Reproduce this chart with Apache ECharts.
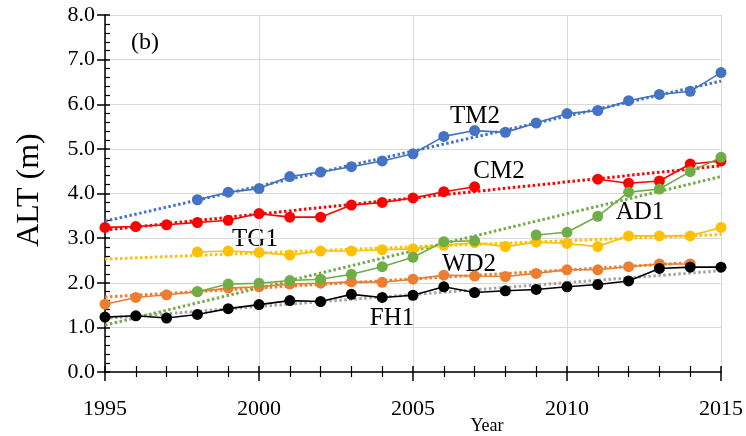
<!DOCTYPE html>
<html>
<head>
<meta charset="utf-8">
<script src="https://cdn.jsdelivr.net/npm/echarts@6/dist/echarts.min.js"></script>
<style>
  html, body { margin: 0; padding: 0; background: #fff; }
  #chart { width: 746px; height: 436px; }
</style>
</head>
<body>
<div id="chart"></div>
<script>
// Active layer thickness (ALT) per site, 1995–2015
const years = [1995, 1996, 1997, 1998, 1999, 2000, 2001, 2002, 2003, 2004, 2005,
               2006, 2007, 2008, 2009, 2010, 2011, 2012, 2013, 2014, 2015];

const TM2 = [null, null, null, 3.86, 4.03, 4.11, 4.38, 4.48, 4.60, 4.73, 4.89,
             5.28, 5.41, 5.37, 5.58, 5.79, 5.86, 6.08, 6.22, 6.29, 6.71];
const CM2 = [3.24, 3.26, 3.30, 3.35, 3.40, 3.55, 3.47, 3.47, 3.74, 3.80, 3.90,
             4.04, 4.15, null, null, null, 4.32, 4.23, 4.28, 4.66, 4.73];
const TG1 = [null, null, null, 2.69, 2.71, 2.68, 2.62, 2.71, 2.71, 2.74, 2.76,
             2.84, 2.90, 2.81, 2.91, 2.88, 2.81, 3.05, 3.05, 3.05, 3.24];
const WD2 = [1.52, 1.67, 1.73, 1.80, 1.88, 1.91, 1.97, 1.99, 2.02, 2.01, 2.08,
             2.17, 2.15, 2.14, 2.21, 2.29, 2.29, 2.36, 2.42, 2.42, null];
const FH1 = [1.23, 1.26, 1.21, 1.29, 1.42, 1.51, 1.60, 1.58, 1.74, 1.67, 1.72,
             1.91, 1.78, 1.82, 1.85, 1.91, 1.96, 2.04, 2.32, 2.35, 2.35];
const AD1 = [null, null, null, 1.80, 1.97, 1.99, 2.05, 2.08, 2.19, 2.36, 2.57,
             2.92, 2.94, null, 3.07, 3.13, 3.49, 4.03, 4.10, 4.49, 4.81];

// Linear trend lines: [start year, start value, end year, end value]
const trendTM2 = [1995, 3.38, 2015, 6.52];
const trendCM2 = [1995, 3.18, 2015, 4.62];
const trendTG1 = [1995, 2.53, 2015, 3.08];
const trendWD2 = [1995, 1.68, 2014, 2.45];
const trendFH1 = [1995, 1.20, 2015, 2.27];
const trendAD1 = [1995, 1.05, 2015, 4.38];

const yTicks = [0, 1, 2, 3, 4, 5, 6, 7, 8];
const xTicks = [1995, 2000, 2005, 2010, 2015];

const serif = 'Liberation Serif';

function pairs(vals) {
  return years.map((y, i) => [y, vals[i] == null ? '-' : vals[i]]);
}

function siteSeries(name, vals, color) {
  return {
    name: name,
    type: 'line',
    data: pairs(vals),
    xAxisIndex: 0,
    yAxisIndex: 0,
    symbol: 'circle',
    symbolSize: 11,
    connectNulls: false,
    lineStyle: { color: color, width: 1.6 },
    itemStyle: { color: color },
    z: 3,
    animation: false
  };
}

function trendSeries(t, color) {
  return {
    type: 'line',
    data: [[t[0], t[1]], [t[2], t[3]]],
    xAxisIndex: 0,
    yAxisIndex: 0,
    symbol: 'none',
    lineStyle: { color: color, width: 3, type: [2.5, 2.5], cap: 'butt' },
    z: 2,
    silent: true,
    animation: false
  };
}

const blue = '#4472C4', red = '#FF0000', yellow = '#FFC000',
      orange = '#ED7D31', black = '#000000', green = '#70AD47', grey = '#A5A5A5';

const chart = echarts.init(document.getElementById('chart'), null, { renderer: 'canvas' });

const gridBox = { left: 105, right: 23, top: 15, bottom: 64 };

function label(text, x, y, size) {
  return {
    type: 'text', x: x, y: y,
    style: { text: text, fill: '#000', font: size + 'px "Liberation Serif"',
             textAlign: 'center', textVerticalAlign: 'middle' }
  };
}

const option = {
  backgroundColor: '#ffffff',
  animation: false,
  grid: Object.assign({ containLabel: false }, gridBox),
  xAxis: [
    {
      type: 'value',
      min: xTicks[0], max: xTicks[xTicks.length - 1], interval: 5,
      position: 'bottom',
      axisLine: { show: true, lineStyle: { color: '#000', width: 1.5 } },
      axisTick: { show: true, inside: false, length: 9, lineStyle: { color: '#000', width: 1.5 } },
      minorTick: { show: true, splitNumber: 5, length: 5, lineStyle: { color: '#000', width: 1.2 } },
      splitLine: { show: true, lineStyle: { color: '#d9d9d9', width: 1 } },
      axisLabel: { color: '#000', fontFamily: serif, fontSize: 22, margin: 26,
                   formatter: v => String(v) }
    },
    {
      type: 'value',
      min: xTicks[0], max: xTicks[xTicks.length - 1], interval: 5,
      position: 'bottom',
      axisLine: { show: false },
      axisTick: { show: true, inside: true, length: 6, lineStyle: { color: '#000', width: 1.5 } },
      minorTick: { show: true, splitNumber: 5, length: 6, lineStyle: { color: '#000', width: 1.2 } },
      splitLine: { show: false },
      axisLabel: { show: false }
    }
  ],
  yAxis: [
    {
      type: 'value',
      min: yTicks[0], max: yTicks[yTicks.length - 1], interval: 1,
      position: 'left',
      axisLine: { show: true, lineStyle: { color: '#000', width: 1.5 } },
      axisTick: { show: true, inside: false, length: 8, lineStyle: { color: '#000', width: 1.5 } },
      splitLine: { show: true, lineStyle: { color: '#d9d9d9', width: 1 } },
      axisLabel: { color: '#000', fontFamily: serif, fontSize: 22, margin: 10,
                   formatter: v => v.toFixed(1) }
    },
    {
      type: 'value',
      min: yTicks[0], max: yTicks[yTicks.length - 1], interval: 1,
      position: 'left',
      axisLine: { show: false },
      axisTick: { show: true, inside: true, length: 5, lineStyle: { color: '#000', width: 1.5 } },
      minorTick: { show: true, splitNumber: 5, length: 5, lineStyle: { color: '#000', width: 1.2 } },
      splitLine: { show: false },
      axisLabel: { show: false }
    }
  ],
  graphic: [
    {
      type: 'text', x: 30, y: 190, rotation: Math.PI / 2,
      style: { text: 'ALT (m)', fill: '#000', font: '32px "Liberation Serif"',
               textAlign: 'center', textVerticalAlign: 'middle' }
    },
    label('Year', 487, 426, 18),
    label('(b)', 145, 43, 24),
    label('TM2', 475, 116, 25),
    label('CM2', 499, 171, 25),
    label('TG1', 255, 239, 25),
    label('AD1', 640, 212, 25),
    label('WD2', 469, 264, 25),
    label('FH1', 392, 318, 25)
  ],
  series: [
    trendSeries(trendTM2, blue),
    trendSeries(trendCM2, red),
    trendSeries(trendTG1, yellow),
    trendSeries(trendWD2, orange),
    trendSeries(trendFH1, grey),
    trendSeries(trendAD1, green),
    siteSeries('TM2', TM2, blue),
    siteSeries('CM2', CM2, red),
    siteSeries('TG1', TG1, yellow),
    siteSeries('WD2', WD2, orange),
    siteSeries('FH1', FH1, black),
    siteSeries('AD1', AD1, green)
  ]
};

chart.setOption(option);
</script>
</body>
</html>
